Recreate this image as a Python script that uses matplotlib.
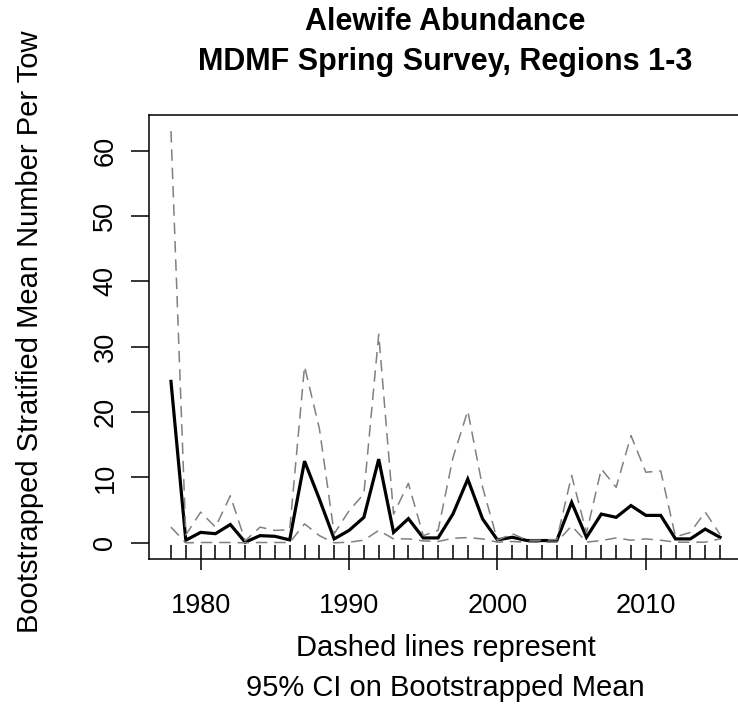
import matplotlib
matplotlib.use("Agg")
import matplotlib.pyplot as plt
import numpy as np

plt.rcParams['font.family'] = ['Liberation Sans', 'DejaVu Sans']

years = list(range(1978, 2016))
mean_vals = [24.7, 0.4, 1.6, 1.4, 2.8, 0.1, 1.1, 1.0, 0.45, 12.5,
             6.7, 0.6, 1.9, 3.9, 12.8, 1.6, 3.7, 0.75, 0.75, 4.4,
             9.75, 3.65, 0.45, 0.85, 0.35, 0.35, 0.35, 6.2, 0.85, 4.4,
             3.9, 5.7, 4.2, 4.2, 0.6, 0.6, 2.1, 0.85]
upper_vals = [63.0, 1.2, 4.7, 2.4, 7.2, 0.3, 2.4, 1.9, 2.0, 27.0,
              17.5, 1.4, 4.9, 7.5, 31.9, 4.4, 9.1, 1.1, 1.9, 13.0,
              20.2, 8.5, 0.4, 1.4, 0.4, 0.4, 0.5, 10.3, 1.5, 11.3,
              8.5, 16.4, 10.8, 11.0, 0.9, 1.6, 4.7, 1.3]
lower_vals = [2.4, 0.0, 0.05, 0.05, 0.05, 0.0, 0.05, 0.05, 0.05, 2.9,
              1.1, 0.0, 0.1, 0.4, 1.9, 0.6, 0.6, 0.3, 0.2, 0.7,
              0.8, 0.6, 0.1, 0.2, 0.1, 0.1, 0.1, 2.6, 0.1, 0.35,
              0.75, 0.4, 0.6, 0.4, 0.1, 0.1, 0.1, 0.6]
xtick_major = [1980, 1990, 2000, 2010]
ytick_vals = [0, 10, 20, 30, 40, 50, 60]

title = "Alewife Abundance\nMDMF Spring Survey, Regions 1-3"
ylabel = "Bootstrapped Stratified Mean Number Per Tow"
xlabel = "Dashed lines represent\n95% CI on Bootstrapped Mean"

W, H = 738, 707
fig = plt.figure(figsize=(W / 100, H / 100), dpi=100)
L, R, T, B = 149, 742, 114.7, 559.3
ax = fig.add_axes([L / W, 1 - B / H, (R - L) / W, (B - T) / H])

ax.plot(years, mean_vals, color='black', lw=2.3, solid_joinstyle='miter', zorder=2)
ax.plot(years, upper_vals, color='#808080', lw=1.1, ls=(0, (7.5, 4.5)), zorder=3)
ax.plot(years, lower_vals, color='#808080', lw=1.1, ls=(0, (7.5, 4.5)), zorder=3)

ax.set_xlim(1976.52, 2016.48)
ax.set_ylim(-2.52, 65.5)

for s in ax.spines.values():
    s.set_linewidth(1.1)
    s.set_color('black')

ax.set_xticks(xtick_major)
ax.set_xticklabels([str(v) for v in xtick_major])
ax.set_xticks(years, minor=True)
ax.xaxis.remove_overlapping_locs = False
ax.tick_params(axis='x', which='major', direction='out', length=8, width=1.1,
               labelsize=19.5, pad=16)
ax.tick_params(axis='x', which='minor', direction='in', length=10, width=1.1)

ax.set_yticks(ytick_vals)
ax.set_yticklabels([str(v) for v in ytick_vals], rotation=90, va='center')
ax.tick_params(axis='y', which='major', direction='out', length=13, width=1.1,
               labelsize=19.5, pad=9)

cx = (L + R) / 2 / W
fig.text(cx, 1 - 42 / H, title, ha='center', va='center', fontsize=22,
         fontweight='bold', linespacing=1.45)
fig.text(cx, 1 - 668 / H, xlabel, ha='center', va='center', fontsize=21,
         linespacing=1.5)
fig.text(30 / W, 1 - 332 / H, ylabel, ha='center', va='center',
         rotation=90, fontsize=21)

fig.savefig("out.png", dpi=100)
